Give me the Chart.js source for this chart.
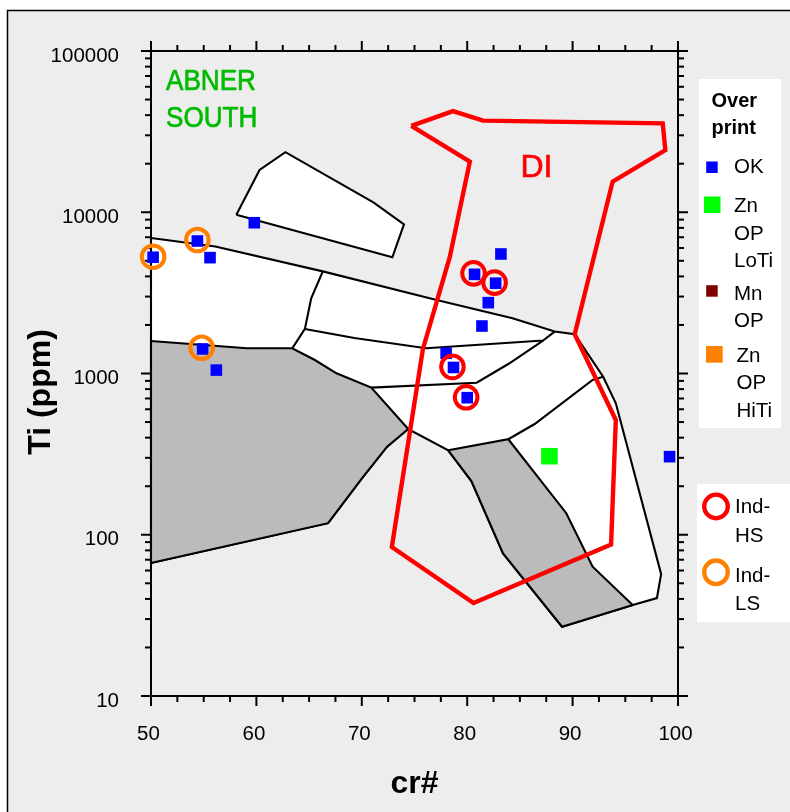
<!DOCTYPE html>
<html>
<head>
<meta charset="utf-8">
<script src="https://cdn.jsdelivr.net/npm/chart.js@4.4.1/dist/chart.umd.min.js"></script>
<style>
html,body{margin:0;padding:0;background:#fff;}
canvas{display:block;}
</style>
</head>
<body>
<canvas id="c" width="790" height="812"></canvas>
<script>
// ---------- data (cr#, Ti ppm) ----------
const xTicks = [50, 60, 70, 80, 90, 100];
const yTicks = [10, 100, 1000, 10000, 100000];

// samples
const okPoints = [[59.8,8610],[54.4,6630],[55.6,5230],[50.2,5260],[54.9,1420],[56.2,1050],
  [83.2,5510],[80.7,4120],[82.7,3630],[82.0,2750],[81.4,1970],[78.0,1335],[78.7,1090],[80.0,708],[99.2,305]];
const znLoTiPoints = [[87.8,307]];
const mnOpPoints = [];
const znHiTiPoints = [];
const indHsPoints = [[80.6,4180],[82.6,3660],[78.6,1100],[79.9,712]];
const indLsPoints = [[50.2,5300],[54.4,6730],[54.8,1445]];

// field outlines
const fieldMain = [[50,6920],[56.1,6130],[66.3,4300],[77.1,2860],[84.3,2200],[88.3,1820],[90.2,1750],
  [92.9,955],[94.1,653],[98.4,57],[98.0,40.5],[95.7,36.7],[89.0,26.9],[83.4,76.7],[80.4,215],[78.2,334],
  [74.4,453],[72.4,352],[70.1,228],[66.8,118],[50,66.8]];
const fieldUpper = [[58.1,9660],[60.3,18300],[62.75,23600],[71.1,11500],[74.0,8420],[72.9,5260]];
const fieldGrayLeft = [[50,1590],[59.1,1433],[63.4,1433],[65.55,1212],[67.6,1003],[70.9,817],[74.4,453],
  [72.4,352],[70.1,228],[66.8,118],[50,66.8]];
const fieldGrayBand = [[78.2,334],[83.9,391],[89.4,136],[91.9,63.4],[95.7,36.7],[89.0,26.9],[83.4,76.7],[80.4,215]];
const lineA = [[66.3,4300],[65.2,2930],[64.6,1890],[63.4,1433]];
const lineB = [[64.6,1890],[69.3,1660],[76.1,1433],[87.2,1600],[88.3,1820]];
const lineC = [[70.9,817],[80.9,877],[83.9,1145],[87.2,1600]];
const lineD = [[83.9,391],[86.4,486],[91.9,911],[92.9,955]];
const fieldDI = [[74.7,34300],[78.65,42400],[81.5,37000],[98.55,35600],[98.8,24300],[93.8,15500],[90.2,1750],
  [94.1,515],[93.65,87],[80.6,37.7],[72.85,84],[75.8,1420],[78.35,5280],[80.25,20600]];

const overprintTitle = ['Over', 'print'];
const overprintLabels = [['OK'], ['Zn','OP','LoTi'], ['Mn','OP'], ['Zn','OP','HiTi']];
const indLabels = [['Ind-','HS'], ['Ind-','LS']];

// ---------- helpers ----------
const toXY = arr => arr.map(([x, y]) => ({x, y}));
const closed = arr => arr.concat([arr[0]]);
const FONT = "'Liberation Sans', Arial, Helvetica, sans-serif";
Chart.defaults.font.family = FONT;
Chart.defaults.color = '#000';

const polygon = (label, pts, fillColor, order, color, width) => ({
  label, data: toXY(fillColor !== undefined ? closed(pts) : pts), showLine: true,
  fill: fillColor ? 'shape' : false, backgroundColor: fillColor || 'transparent',
  borderColor: color || '#000', borderWidth: width || 2.1, pointRadius: 0, order, clip: false, tension: 0
});
const points = (label, pts, style, radius, color, ring, order) => ({
  label, data: toXY(pts), showLine: false, pointStyle: style, pointRadius: radius,
  backgroundColor: ring ? 'transparent' : color, borderColor: color, borderWidth: ring ? 4 : 0,
  order, clip: false
});

const datasets = [
  polygon('main', fieldMain, '#ffffff', 20),
  polygon('upper', fieldUpper, '#ffffff', 19),
  polygon('grayLeft', fieldGrayLeft, '#bbbbbb', 18),
  polygon('grayBand', fieldGrayBand, '#bbbbbb', 17),
  polygon('lineA', lineA, undefined, 16),
  polygon('lineB', lineB, undefined, 15),
  polygon('lineC', lineC, undefined, 14),
  polygon('lineD', lineD, undefined, 13),
  {...polygon('DI', fieldDI, '', 10, '#ff0000', 4.4), fill: false, borderJoinStyle: 'miter'},
  points('OK', okPoints, 'rect', 8.2, '#0000ff', false, 5),
  points('Zn OP LoTi', znLoTiPoints, 'rect', 11.7, '#00ff00', false, 5),
  points('Mn OP', mnOpPoints, 'rect', 8.2, '#800000', false, 5),
  points('Zn OP HiTi', znHiTiPoints, 'rect', 11.7, '#ff8000', false, 5),
  points('Ind-HS', indHsPoints, 'circle', 11.3, '#ff0000', true, 1),
  points('Ind-LS', indLsPoints, 'circle', 11.3, '#ff8000', true, 1)
];

// ---------- plugins ----------
const bgPlugin = {
  id: 'bg',
  beforeDraw(chart) {
    const ctx = chart.ctx;
    ctx.save();
    ctx.fillStyle = '#ffffff';
    ctx.fillRect(0, 0, chart.width, chart.height);
    ctx.fillStyle = '#ededed';
    ctx.fillRect(8, 11, chart.width, chart.height);
    ctx.strokeStyle = '#000';
    ctx.lineWidth = 1.5;
    ctx.strokeRect(7.5, 10.5, chart.width + 20, chart.height + 20);
    ctx.restore();
  }
};

function drawFrame(chart) {
  const {ctx, chartArea: a, scales: {x, y}} = chart;
  ctx.save();
  ctx.strokeStyle = '#000';
  ctx.lineWidth = 2;
  ctx.lineCap = 'butt';
  const seg = (x1, y1, x2, y2) => { ctx.beginPath(); ctx.moveTo(x1, y1); ctx.lineTo(x2, y2); ctx.stroke(); };
  ctx.strokeRect(a.left, a.top, a.right - a.left, a.bottom - a.top);
  for (let i = 0; i < xTicks.length; i++) {
    for (let k = 0; k < 4; k++) {
      if (i === xTicks.length - 1 && k > 0) break;
      const v = xTicks[i] + k * 2.5;
      const px = x.getPixelForValue(v);
      const L = k === 0 ? 10 : 6;
      seg(px, a.bottom, px, a.bottom + L);
      seg(px, a.top, px, a.top - L);
    }
  }
  for (let i = 0; i < yTicks.length; i++) {
    for (let m = 1; m < 10; m++) {
      if (i === yTicks.length - 1 && m > 1) break;
      const py = y.getPixelForValue(yTicks[i] * m);
      const L = m === 1 ? 10 : 6;
      seg(a.left - L, py, a.left, py);
      seg(a.right, py, a.right + L, py);
    }
  }
  ctx.restore();
}

const framePlugin = {
  id: 'frame',
  afterDatasetDraw(chart, args) {
    if (chart.data.datasets[args.index].label === 'DI') drawFrame(chart);
  }
};

const annotPlugin = {
  id: 'annot',
  afterDraw(chart) {
    const ctx = chart.ctx;
    ctx.save();
    // ABNER SOUTH
    ctx.fillStyle = '#00bb00';
    ctx.strokeStyle = '#00bb00';
    ctx.lineWidth = 0.7;
    ctx.font = '30px ' + FONT;
    ctx.textAlign = 'left';
    ctx.textBaseline = 'alphabetic';
    [['ABNER', 90], ['SOUTH', 126.5]].forEach(([t, by]) => {
      ctx.save(); ctx.translate(166, by); ctx.scale(0.87, 1); ctx.fillText(t, 0, 0); ctx.strokeText(t, 0, 0); ctx.restore();
    });
    // DI label
    ctx.fillStyle = '#ff0000';
    ctx.strokeStyle = '#ff0000';
    ctx.lineWidth = 0.6;
    ctx.font = '32px ' + FONT;
    ctx.fillText('DI', 520.5, 177.3);
    ctx.strokeText('DI', 520.5, 177.3);
    // Y axis title
    ctx.fillStyle = '#000';
    ctx.font = 'bold 32px ' + FONT;
    ctx.save();
    ctx.translate(50, 392);
    ctx.rotate(-Math.PI / 2);
    ctx.textAlign = 'center';
    ctx.fillText('Ti (ppm)', 0, 0);
    ctx.restore();

    // Legend 1
    ctx.fillStyle = '#ffffff';
    ctx.fillRect(699, 79, 82, 349);
    ctx.fillStyle = '#000';
    ctx.font = 'bold 20px ' + FONT;
    ctx.textAlign = 'left';
    ctx.fillText(overprintTitle[0], 711.5, 107);
    ctx.fillText(overprintTitle[1], 711.5, 133.5);
    const markers = [
      {c: '#0000ff', x: 706.2, y: 161.5, s: 11.5, tx: 734, base: [173.3]},
      {c: '#00ff00', x: 704, y: 196.5, s: 16.5, tx: 734, base: [211.7, 239.7, 267]},
      {c: '#800000', x: 706.2, y: 285.2, s: 11.5, tx: 734, base: [300, 327]},
      {c: '#ff8000', x: 706, y: 346, s: 16.7, tx: 736.5, base: [361.7, 388.5, 417]}
    ];
    ctx.font = '20.5px ' + FONT;
    markers.forEach((m, i) => {
      ctx.fillStyle = m.c;
      ctx.fillRect(m.x, m.y, m.s, m.s);
      ctx.fillStyle = '#000';
      overprintLabels[i].forEach((t, j) => ctx.fillText(t, m.tx, m.base[j]));
    });
    // Legend 2
    ctx.fillStyle = '#ffffff';
    ctx.fillRect(697, 484, 93, 138);
    const rings = [
      {c: '#ff0000', cy: 506.5, base: [513.3, 541.7]},
      {c: '#ff8000', cy: 572.3, base: [581.7, 610]}
    ];
    rings.forEach((r, i) => {
      ctx.strokeStyle = r.c;
      ctx.lineWidth = 4.3;
      ctx.beginPath();
      ctx.arc(716, r.cy, 11.8, 0, Math.PI * 2);
      ctx.stroke();
      ctx.fillStyle = '#000';
      indLabels[i].forEach((t, j) => ctx.fillText(t, 735, r.base[j]));
    });
    ctx.restore();
  }
};

new Chart(document.getElementById('c'), {
  type: 'scatter',
  data: {datasets},
  options: {
    responsive: false,
    animation: false,
    events: [],
    layout: {padding: {left: 0, right: 112, top: 51, bottom: 0}},
    plugins: {legend: {display: false}, tooltip: {enabled: false}},
    scales: {
      x: {
        type: 'linear', position: 'bottom', min: 50, max: 100,
        afterBuildTicks: s => { s.ticks = xTicks.map(v => ({value: v})); },
        afterFit: s => { s.height = 116; },
        ticks: {font: {size: 20.5}, color: '#000', padding: 26, labelOffset: -2.5, maxRotation: 0, autoSkip: false,
          callback: v => String(v)},
        grid: {display: false, drawTicks: false},
        border: {display: false},
        title: {display: true, text: 'cr#', color: '#000', font: {size: 32, weight: 'bold'}, padding: {top: 0, bottom: 9}}
      },
      y: {
        type: 'logarithmic', position: 'left', min: 10, max: 100000,
        afterBuildTicks: s => { s.ticks = yTicks.map(v => ({value: v})); },
        afterFit: s => { s.width = 151; },
        ticks: {font: {size: 20.5}, color: '#000', padding: 32, labelOffset: 5, autoSkip: false,
          callback: v => String(v)},
        grid: {display: false, drawTicks: false},
        border: {display: false}
      }
    }
  },
  plugins: [bgPlugin, framePlugin, annotPlugin]
});
</script>
</body>
</html>
